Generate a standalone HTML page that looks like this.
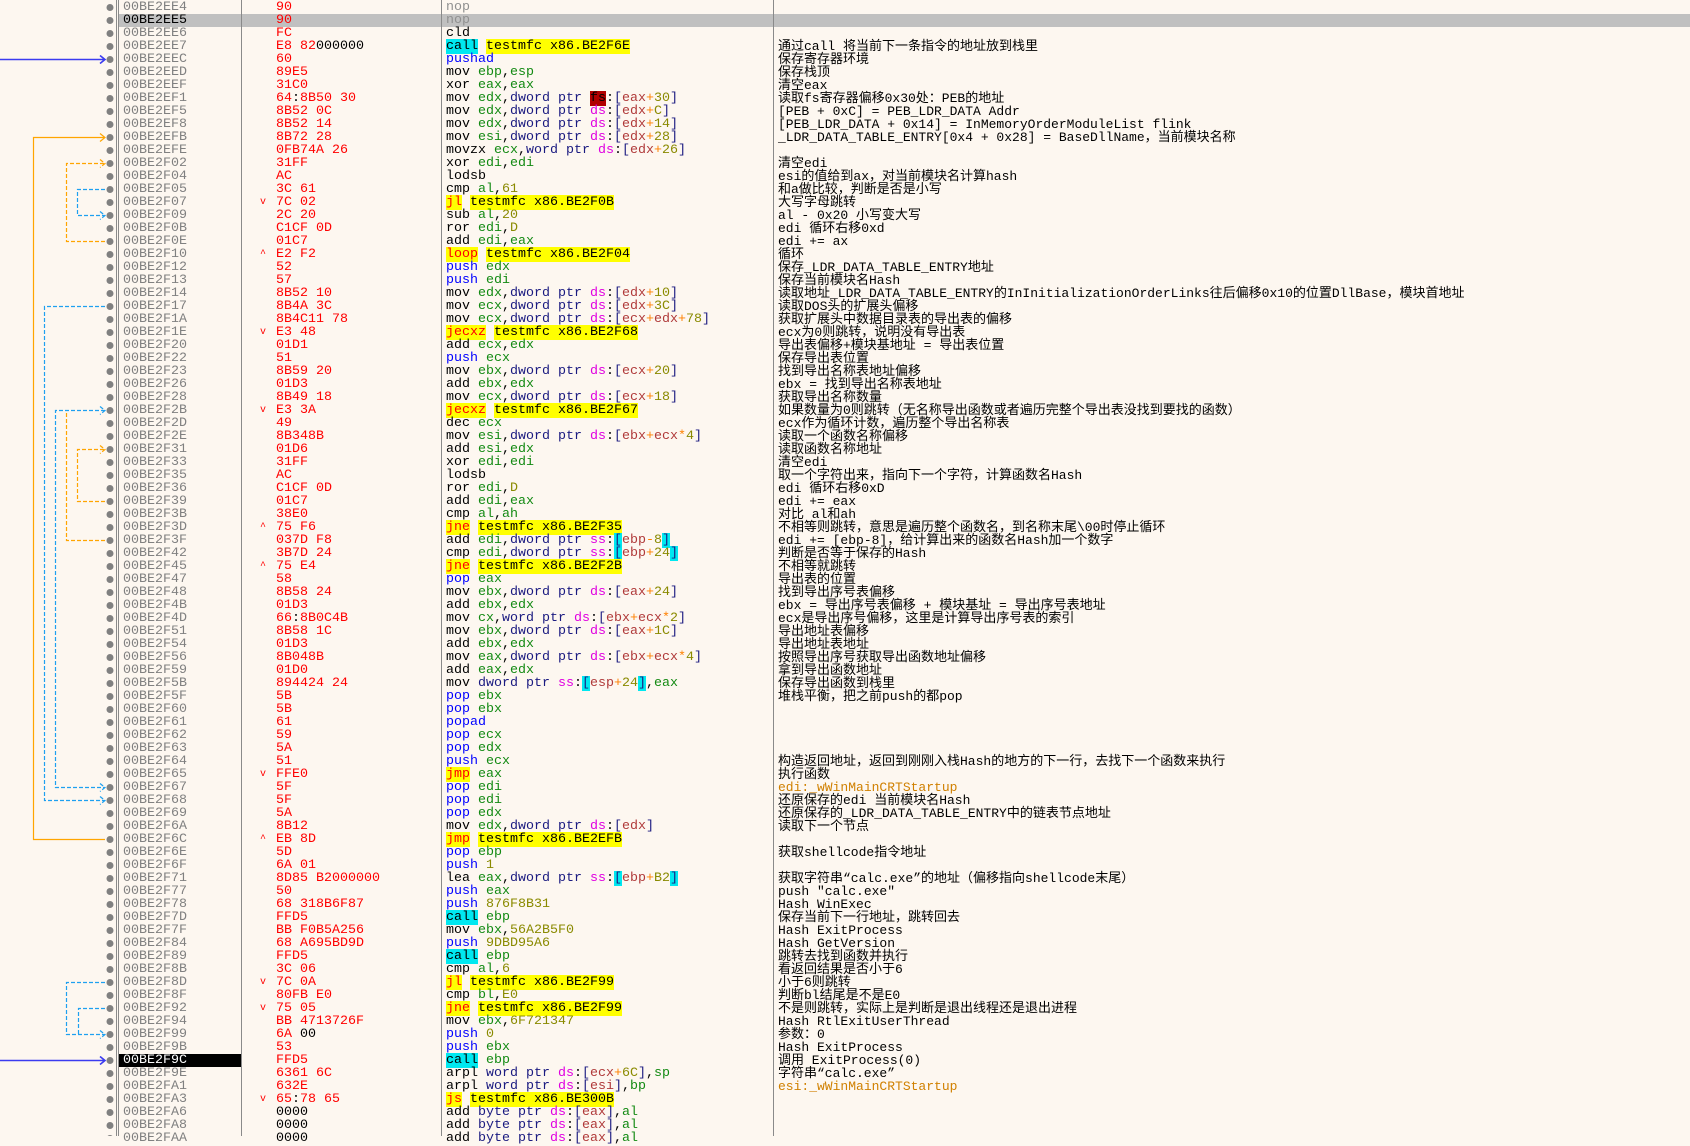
<!DOCTYPE html>
<html><head><meta charset="utf-8">
<style>
html,body{margin:0;padding:0}
body{width:1690px;height:1136px;background:#fdf7f0;position:relative;overflow:hidden;font-family:"Liberation Mono","Noto Sans CJK SC",monospace;font-size:13.33px}
.col{position:absolute;top:1px;white-space:normal}
.col div{height:13px;line-height:13px;white-space:pre}
.vl{position:absolute;top:0;height:1136px;width:1px;background:#8a8a8a}
#addr{left:123px;color:#808080}
#byt{left:276px;color:#ff0000}
#mk{left:260px;color:#ff0000;font-size:10px}
#dis{left:446px;color:#000}
#cm{left:778px;color:#000;font-size:13px}
i,b,s,q,em,u,var,mark{font-style:normal;font-weight:normal;text-decoration:none}
q::before,q::after{content:none}
i{color:#138a13}
b{color:#1a1a80}
s{color:#e000e0}
q{color:#b03a3a}
em{color:#ff8000}
u{color:#8a8a00}
var{color:#0000ff}
mark{background:#ffff00;color:#000}
mark.j{color:#ff0000}
mark.c{background:#00e8f0;color:#000}
.cy{background:#00e8f0}
.fs{background:#b00000;color:#000}
.k{color:#000}
.gr{color:#909090}
.or{color:#d08000}
</style></head><body>
<div style="position:absolute;left:119px;top:14px;width:1571px;height:13px;background:#c0c0c0"></div>
<div style="position:absolute;left:119px;top:1054px;width:122px;height:13px;background:#000"></div>
<div class="vl" style="left:116px"></div>
<div class="vl" style="left:118px"></div>
<div class="vl" style="left:241px"></div>
<div class="vl" style="left:441px"></div>
<div class="vl" style="left:773px"></div>

<svg style="position:absolute;left:0;top:0" width="116" height="1136">
<g fill="#808080">
<circle cx="110" cy="7.5" r="3.5"/><circle cx="110" cy="20.5" r="3.5"/><circle cx="110" cy="33.5" r="3.5"/><circle cx="110" cy="46.5" r="3.5"/><circle cx="110" cy="59.5" r="3.5"/><circle cx="110" cy="72.5" r="3.5"/><circle cx="110" cy="85.5" r="3.5"/><circle cx="110" cy="98.5" r="3.5"/><circle cx="110" cy="111.5" r="3.5"/><circle cx="110" cy="124.5" r="3.5"/><circle cx="110" cy="137.5" r="3.5"/><circle cx="110" cy="150.5" r="3.5"/><circle cx="110" cy="163.5" r="3.5"/><circle cx="110" cy="176.5" r="3.5"/><circle cx="110" cy="189.5" r="3.5"/><circle cx="110" cy="202.5" r="3.5"/><circle cx="110" cy="215.5" r="3.5"/><circle cx="110" cy="228.5" r="3.5"/><circle cx="110" cy="241.5" r="3.5"/><circle cx="110" cy="254.5" r="3.5"/><circle cx="110" cy="267.5" r="3.5"/><circle cx="110" cy="280.5" r="3.5"/><circle cx="110" cy="293.5" r="3.5"/><circle cx="110" cy="306.5" r="3.5"/><circle cx="110" cy="319.5" r="3.5"/><circle cx="110" cy="332.5" r="3.5"/><circle cx="110" cy="345.5" r="3.5"/><circle cx="110" cy="358.5" r="3.5"/><circle cx="110" cy="371.5" r="3.5"/><circle cx="110" cy="384.5" r="3.5"/><circle cx="110" cy="397.5" r="3.5"/><circle cx="110" cy="410.5" r="3.5"/><circle cx="110" cy="423.5" r="3.5"/><circle cx="110" cy="436.5" r="3.5"/><circle cx="110" cy="449.5" r="3.5"/><circle cx="110" cy="462.5" r="3.5"/><circle cx="110" cy="475.5" r="3.5"/><circle cx="110" cy="488.5" r="3.5"/><circle cx="110" cy="501.5" r="3.5"/><circle cx="110" cy="514.5" r="3.5"/><circle cx="110" cy="527.5" r="3.5"/><circle cx="110" cy="540.5" r="3.5"/><circle cx="110" cy="553.5" r="3.5"/><circle cx="110" cy="566.5" r="3.5"/><circle cx="110" cy="579.5" r="3.5"/><circle cx="110" cy="592.5" r="3.5"/><circle cx="110" cy="605.5" r="3.5"/><circle cx="110" cy="618.5" r="3.5"/><circle cx="110" cy="631.5" r="3.5"/><circle cx="110" cy="644.5" r="3.5"/><circle cx="110" cy="657.5" r="3.5"/><circle cx="110" cy="670.5" r="3.5"/><circle cx="110" cy="683.5" r="3.5"/><circle cx="110" cy="696.5" r="3.5"/><circle cx="110" cy="709.5" r="3.5"/><circle cx="110" cy="722.5" r="3.5"/><circle cx="110" cy="735.5" r="3.5"/><circle cx="110" cy="748.5" r="3.5"/><circle cx="110" cy="761.5" r="3.5"/><circle cx="110" cy="774.5" r="3.5"/><circle cx="110" cy="787.5" r="3.5"/><circle cx="110" cy="800.5" r="3.5"/><circle cx="110" cy="813.5" r="3.5"/><circle cx="110" cy="826.5" r="3.5"/><circle cx="110" cy="839.5" r="3.5"/><circle cx="110" cy="852.5" r="3.5"/><circle cx="110" cy="865.5" r="3.5"/><circle cx="110" cy="878.5" r="3.5"/><circle cx="110" cy="891.5" r="3.5"/><circle cx="110" cy="904.5" r="3.5"/><circle cx="110" cy="917.5" r="3.5"/><circle cx="110" cy="930.5" r="3.5"/><circle cx="110" cy="943.5" r="3.5"/><circle cx="110" cy="956.5" r="3.5"/><circle cx="110" cy="969.5" r="3.5"/><circle cx="110" cy="982.5" r="3.5"/><circle cx="110" cy="995.5" r="3.5"/><circle cx="110" cy="1008.5" r="3.5"/><circle cx="110" cy="1021.5" r="3.5"/><circle cx="110" cy="1034.5" r="3.5"/><circle cx="110" cy="1047.5" r="3.5"/><circle cx="110" cy="1060.5" r="3.5"/><circle cx="110" cy="1073.5" r="3.5"/><circle cx="110" cy="1086.5" r="3.5"/><circle cx="110" cy="1099.5" r="3.5"/><circle cx="110" cy="1112.5" r="3.5"/><circle cx="110" cy="1125.5" r="3.5"/><circle cx="110" cy="1138.5" r="3.5"/>
</g>
<g fill="none" stroke-width="1.2">
<path d="M0 59.5H105M100 55.5L105 59.5L100 63.5" stroke="#3b3bf0" stroke-width="1.6"/>
<path d="M0 1060.5H105M100 1056.5L105 1060.5L100 1064.5" stroke="#3b3bf0" stroke-width="1.6"/>
<path d="M105 839.5H33.5V137.5H105M100 133.5L105 137.5L100 141.5" stroke="#ffa500"/>
<path d="M105 241.5H66.5V163.5H105M100 159.5L105 163.5L100 167.5" stroke="#ffa500" stroke-dasharray="4 2"/>
<path d="M105 189.5H77.5V215.5H105M100 211.5L105 215.5L100 219.5" stroke="#1ea0f0" stroke-dasharray="4 2"/>
<path d="M105 306.5H44.5V800.5H105M100 796.5L105 800.5L100 804.5" stroke="#1ea0f0" stroke-dasharray="4 2"/>
<path d="M105 540.5H66.5V412" stroke="#ffa500" stroke-dasharray="4 2"/>
<path d="M105 410.5H55.5V787.5H105M100 783.5L105 787.5L100 791.5M100 406.5L105 410.5L100 414.5" stroke="#1ea0f0" stroke-dasharray="4 2"/>
<path d="M105 501.5H77.5V449.5H105M100 445.5L105 449.5L100 453.5" stroke="#ffa500" stroke-dasharray="4 2"/>
<path d="M105 982.5H66.5V1034.5H105M100 1030.5L105 1034.5L100 1038.5" stroke="#1ea0f0" stroke-dasharray="4 2"/>
<path d="M105 1008.5H78.5V1034.5" stroke="#1ea0f0" stroke-dasharray="4 2"/>
</g>
</svg>

<div class="col" id="addr"><div>00BE2EE4</div><div style="color:#000">00BE2EE5</div><div>00BE2EE6</div><div>00BE2EE7</div><div>00BE2EEC</div><div>00BE2EED</div><div>00BE2EEF</div><div>00BE2EF1</div><div>00BE2EF5</div><div>00BE2EF8</div><div>00BE2EFB</div><div>00BE2EFE</div><div>00BE2F02</div><div>00BE2F04</div><div>00BE2F05</div><div>00BE2F07</div><div>00BE2F09</div><div>00BE2F0B</div><div>00BE2F0E</div><div>00BE2F10</div><div>00BE2F12</div><div>00BE2F13</div><div>00BE2F14</div><div>00BE2F17</div><div>00BE2F1A</div><div>00BE2F1E</div><div>00BE2F20</div><div>00BE2F22</div><div>00BE2F23</div><div>00BE2F26</div><div>00BE2F28</div><div>00BE2F2B</div><div>00BE2F2D</div><div>00BE2F2E</div><div>00BE2F31</div><div>00BE2F33</div><div>00BE2F35</div><div>00BE2F36</div><div>00BE2F39</div><div>00BE2F3B</div><div>00BE2F3D</div><div>00BE2F3F</div><div>00BE2F42</div><div>00BE2F45</div><div>00BE2F47</div><div>00BE2F48</div><div>00BE2F4B</div><div>00BE2F4D</div><div>00BE2F51</div><div>00BE2F54</div><div>00BE2F56</div><div>00BE2F59</div><div>00BE2F5B</div><div>00BE2F5F</div><div>00BE2F60</div><div>00BE2F61</div><div>00BE2F62</div><div>00BE2F63</div><div>00BE2F64</div><div>00BE2F65</div><div>00BE2F67</div><div>00BE2F68</div><div>00BE2F69</div><div>00BE2F6A</div><div>00BE2F6C</div><div>00BE2F6E</div><div>00BE2F6F</div><div>00BE2F71</div><div>00BE2F77</div><div>00BE2F78</div><div>00BE2F7D</div><div>00BE2F7F</div><div>00BE2F84</div><div>00BE2F89</div><div>00BE2F8B</div><div>00BE2F8D</div><div>00BE2F8F</div><div>00BE2F92</div><div>00BE2F94</div><div>00BE2F99</div><div>00BE2F9B</div><div style="color:#fff">00BE2F9C</div><div>00BE2F9E</div><div>00BE2FA1</div><div>00BE2FA3</div><div>00BE2FA6</div><div>00BE2FA8</div><div>00BE2FAA</div></div>

<div class="col" id="mk"><div> </div><div> </div><div> </div><div> </div><div> </div><div> </div><div> </div><div> </div><div> </div><div> </div><div> </div><div> </div><div> </div><div> </div><div> </div><div>v</div><div> </div><div> </div><div> </div><div>^</div><div> </div><div> </div><div> </div><div> </div><div> </div><div>v</div><div> </div><div> </div><div> </div><div> </div><div> </div><div>v</div><div> </div><div> </div><div> </div><div> </div><div> </div><div> </div><div> </div><div> </div><div>^</div><div> </div><div> </div><div>^</div><div> </div><div> </div><div> </div><div> </div><div> </div><div> </div><div> </div><div> </div><div> </div><div> </div><div> </div><div> </div><div> </div><div> </div><div> </div><div>v</div><div> </div><div> </div><div> </div><div> </div><div>^</div><div> </div><div> </div><div> </div><div> </div><div> </div><div> </div><div> </div><div> </div><div> </div><div> </div><div>v</div><div> </div><div>v</div><div> </div><div> </div><div> </div><div> </div><div> </div><div> </div><div>v</div></div>

<div class="col" id="byt"><div>90</div><div>90</div><div>FC</div><div>E8 82<span class="k">000000</span></div><div>60</div><div>89E5</div><div>31C0</div><div>64<span class="k">:</span>8B50 30</div><div>8B52 0C</div><div>8B52 14</div><div>8B72 28</div><div>0FB74A 26</div><div>31FF</div><div>AC</div><div>3C 61</div><div>7C 02</div><div>2C 20</div><div>C1CF 0D</div><div>01C7</div><div>E2 F2</div><div>52</div><div>57</div><div>8B52 10</div><div>8B4A 3C</div><div>8B4C11 78</div><div>E3 48</div><div>01D1</div><div>51</div><div>8B59 20</div><div>01D3</div><div>8B49 18</div><div>E3 3A</div><div>49</div><div>8B348B</div><div>01D6</div><div>31FF</div><div>AC</div><div>C1CF 0D</div><div>01C7</div><div>38E0</div><div>75 F6</div><div>037D F8</div><div>3B7D 24</div><div>75 E4</div><div>58</div><div>8B58 24</div><div>01D3</div><div>66<span class="k">:</span>8B0C4B</div><div>8B58 1C</div><div>01D3</div><div>8B048B</div><div>01D0</div><div>894424 24</div><div>5B</div><div>5B</div><div>61</div><div>59</div><div>5A</div><div>51</div><div>FFE0</div><div>5F</div><div>5F</div><div>5A</div><div>8B12</div><div>EB 8D</div><div>5D</div><div>6A 01</div><div>8D85 B2000000</div><div>50</div><div>68 318B6F87</div><div>FFD5</div><div>BB F0B5A256</div><div>68 A695BD9D</div><div>FFD5</div><div>3C 06</div><div>7C 0A</div><div>80FB E0</div><div>75 05</div><div>BB 4713726F</div><div>6A <span class="k">00</span></div><div>53</div><div>FFD5</div><div>6361 6C</div><div>632E</div><div>65<span class="k">:</span>78 65</div><div class="k">0000</div><div class="k">0000</div><div class="k">0000</div></div>

<div class="col" id="dis">
<div class="gr">nop</div>
<div class="gr">nop</div>
<div>cld</div>
<div><mark class="c">call</mark> <mark>testmfc x86.BE2F6E</mark></div>
<div><var>pushad</var></div>
<div>mov <i>ebp</i>,<i>esp</i></div>
<div>xor <i>eax</i>,<i>eax</i></div>
<div>mov <i>edx</i>,<b>dword ptr</b> <span class="fs">fs</span>:<b>[</b><q>eax</q><em>+</em><u>30</u><b>]</b></div>
<div>mov <i>edx</i>,<b>dword ptr</b> <s>ds</s>:<b>[</b><q>edx</q><em>+</em><u>C</u><b>]</b></div>
<div>mov <i>edx</i>,<b>dword ptr</b> <s>ds</s>:<b>[</b><q>edx</q><em>+</em><u>14</u><b>]</b></div>
<div>mov <i>esi</i>,<b>dword ptr</b> <s>ds</s>:<b>[</b><q>edx</q><em>+</em><u>28</u><b>]</b></div>
<div>movzx <i>ecx</i>,<b>word ptr</b> <s>ds</s>:<b>[</b><q>edx</q><em>+</em><u>26</u><b>]</b></div>
<div>xor <i>edi</i>,<i>edi</i></div>
<div>lodsb</div>
<div>cmp <i>al</i>,<u>61</u></div>
<div><mark class="j">jl</mark> <mark>testmfc x86.BE2F0B</mark></div>
<div>sub <i>al</i>,<u>20</u></div>
<div>ror <i>edi</i>,<u>D</u></div>
<div>add <i>edi</i>,<i>eax</i></div>
<div><mark class="j">loop</mark> <mark>testmfc x86.BE2F04</mark></div>
<div><var>push</var> <i>edx</i></div>
<div><var>push</var> <i>edi</i></div>
<div>mov <i>edx</i>,<b>dword ptr</b> <s>ds</s>:<b>[</b><q>edx</q><em>+</em><u>10</u><b>]</b></div>
<div>mov <i>ecx</i>,<b>dword ptr</b> <s>ds</s>:<b>[</b><q>edx</q><em>+</em><u>3C</u><b>]</b></div>
<div>mov <i>ecx</i>,<b>dword ptr</b> <s>ds</s>:<b>[</b><q>ecx</q><em>+</em><q>edx</q><em>+</em><u>78</u><b>]</b></div>
<div><mark class="j">jecxz</mark> <mark>testmfc x86.BE2F68</mark></div>
<div>add <i>ecx</i>,<i>edx</i></div>
<div><var>push</var> <i>ecx</i></div>
<div>mov <i>ebx</i>,<b>dword ptr</b> <s>ds</s>:<b>[</b><q>ecx</q><em>+</em><u>20</u><b>]</b></div>
<div>add <i>ebx</i>,<i>edx</i></div>
<div>mov <i>ecx</i>,<b>dword ptr</b> <s>ds</s>:<b>[</b><q>ecx</q><em>+</em><u>18</u><b>]</b></div>
<div><mark class="j">jecxz</mark> <mark>testmfc x86.BE2F67</mark></div>
<div>dec <i>ecx</i></div>
<div>mov <i>esi</i>,<b>dword ptr</b> <s>ds</s>:<b>[</b><q>ebx</q><em>+</em><q>ecx</q><em>*</em><u>4</u><b>]</b></div>
<div>add <i>esi</i>,<i>edx</i></div>
<div>xor <i>edi</i>,<i>edi</i></div>
<div>lodsb</div>
<div>ror <i>edi</i>,<u>D</u></div>
<div>add <i>edi</i>,<i>eax</i></div>
<div>cmp <i>al</i>,<i>ah</i></div>
<div><mark class="j">jne</mark> <mark>testmfc x86.BE2F35</mark></div>
<div>add <i>edi</i>,<b>dword ptr</b> <s>ss</s>:<b class="cy">[</b><q>ebp</q><em>-</em><u>8</u><b class="cy">]</b></div>
<div>cmp <i>edi</i>,<b>dword ptr</b> <s>ss</s>:<b class="cy">[</b><q>ebp</q><em>+</em><u>24</u><b class="cy">]</b></div>
<div><mark class="j">jne</mark> <mark>testmfc x86.BE2F2B</mark></div>
<div><var>pop</var> <i>eax</i></div>
<div>mov <i>ebx</i>,<b>dword ptr</b> <s>ds</s>:<b>[</b><q>eax</q><em>+</em><u>24</u><b>]</b></div>
<div>add <i>ebx</i>,<i>edx</i></div>
<div>mov <i>cx</i>,<b>word ptr</b> <s>ds</s>:<b>[</b><q>ebx</q><em>+</em><q>ecx</q><em>*</em><u>2</u><b>]</b></div>
<div>mov <i>ebx</i>,<b>dword ptr</b> <s>ds</s>:<b>[</b><q>eax</q><em>+</em><u>1C</u><b>]</b></div>
<div>add <i>ebx</i>,<i>edx</i></div>
<div>mov <i>eax</i>,<b>dword ptr</b> <s>ds</s>:<b>[</b><q>ebx</q><em>+</em><q>ecx</q><em>*</em><u>4</u><b>]</b></div>
<div>add <i>eax</i>,<i>edx</i></div>
<div>mov <b>dword ptr</b> <s>ss</s>:<b class="cy">[</b><q>esp</q><em>+</em><u>24</u><b class="cy">]</b>,<i>eax</i></div>
<div><var>pop</var> <i>ebx</i></div>
<div><var>pop</var> <i>ebx</i></div>
<div><var>popad</var></div>
<div><var>pop</var> <i>ecx</i></div>
<div><var>pop</var> <i>edx</i></div>
<div><var>push</var> <i>ecx</i></div>
<div><mark class="j">jmp</mark> <i>eax</i></div>
<div><var>pop</var> <i>edi</i></div>
<div><var>pop</var> <i>edi</i></div>
<div><var>pop</var> <i>edx</i></div>
<div>mov <i>edx</i>,<b>dword ptr</b> <s>ds</s>:<b>[</b><q>edx</q><b>]</b></div>
<div><mark class="j">jmp</mark> <mark>testmfc x86.BE2EFB</mark></div>
<div><var>pop</var> <i>ebp</i></div>
<div><var>push</var> <u>1</u></div>
<div>lea <i>eax</i>,<b>dword ptr</b> <s>ss</s>:<b class="cy">[</b><q>ebp</q><em>+</em><u>B2</u><b class="cy">]</b></div>
<div><var>push</var> <i>eax</i></div>
<div><var>push</var> <u>876F8B31</u></div>
<div><mark class="c">call</mark> <i>ebp</i></div>
<div>mov <i>ebx</i>,<u>56A2B5F0</u></div>
<div><var>push</var> <u>9DBD95A6</u></div>
<div><mark class="c">call</mark> <i>ebp</i></div>
<div>cmp <i>al</i>,<u>6</u></div>
<div><mark class="j">jl</mark> <mark>testmfc x86.BE2F99</mark></div>
<div>cmp <i>bl</i>,<u>E0</u></div>
<div><mark class="j">jne</mark> <mark>testmfc x86.BE2F99</mark></div>
<div>mov <i>ebx</i>,<u>6F721347</u></div>
<div><var>push</var> <u>0</u></div>
<div><var>push</var> <i>ebx</i></div>
<div><mark class="c">call</mark> <i>ebp</i></div>
<div>arpl <b>word ptr</b> <s>ds</s>:<b>[</b><q>ecx</q><em>+</em><u>6C</u><b>]</b>,<i>sp</i></div>
<div>arpl <b>word ptr</b> <s>ds</s>:<b>[</b><q>esi</q><b>]</b>,<i>bp</i></div>
<div><mark class="j">js</mark> <mark>testmfc x86.BE300B</mark></div>
<div>add <b>byte ptr</b> <s>ds</s>:<b>[</b><q>eax</q><b>]</b>,<i>al</i></div>
<div>add <b>byte ptr</b> <s>ds</s>:<b>[</b><q>eax</q><b>]</b>,<i>al</i></div>
<div>add <b>byte ptr</b> <s>ds</s>:<b>[</b><q>eax</q><b>]</b>,<i>al</i></div>
</div>

<div class="col" id="cm">
<div> </div><div> </div><div> </div>
<div>通过call 将当前下一条指令的地址放到栈里</div>
<div>保存寄存器环境</div>
<div>保存栈顶</div>
<div>清空eax</div>
<div>读取fs寄存器偏移0x30处：PEB的地址</div>
<div>[PEB + 0xC] = PEB_LDR_DATA Addr</div>
<div>[PEB_LDR_DATA + 0x14] = InMemoryOrderModuleList flink</div>
<div>_LDR_DATA_TABLE_ENTRY[0x4 + 0x28] = BaseDllName，当前模块名称</div>
<div> </div>
<div>清空edi</div>
<div>esi的值给到ax，对当前模块名计算hash</div>
<div>和a做比较，判断是否是小写</div>
<div>大写字母跳转</div>
<div>al - 0x20 小写变大写</div>
<div>edi 循环右移0xd</div>
<div>edi += ax</div>
<div>循环</div>
<div>保存_LDR_DATA_TABLE_ENTRY地址</div>
<div>保存当前模块名Hash</div>
<div>读取地址_LDR_DATA_TABLE_ENTRY的InInitializationOrderLinks往后偏移0x10的位置DllBase，模块首地址</div>
<div>读取DOS头的扩展头偏移</div>
<div>获取扩展头中数据目录表的导出表的偏移</div>
<div>ecx为0则跳转，说明没有导出表</div>
<div>导出表偏移+模块基地址 = 导出表位置</div>
<div>保存导出表位置</div>
<div>找到导出名称表地址偏移</div>
<div>ebx = 找到导出名称表地址</div>
<div>获取导出名称数量</div>
<div>如果数量为0则跳转（无名称导出函数或者遍历完整个导出表没找到要找的函数）</div>
<div>ecx作为循环计数，遍历整个导出名称表</div>
<div>读取一个函数名称偏移</div>
<div>读取函数名称地址</div>
<div>清空edi</div>
<div>取一个字符出来，指向下一个字符，计算函数名Hash</div>
<div>edi 循环右移0xD</div>
<div>edi += eax</div>
<div>对比 al和ah</div>
<div>不相等则跳转，意思是遍历整个函数名，到名称末尾\00时停止循环</div>
<div>edi += [ebp-8]，给计算出来的函数名Hash加一个数字</div>
<div>判断是否等于保存的Hash</div>
<div>不相等就跳转</div>
<div>导出表的位置</div>
<div>找到导出序号表偏移</div>
<div>ebx = 导出序号表偏移 + 模块基址 = 导出序号表地址</div>
<div>ecx是导出序号偏移，这里是计算导出序号表的索引</div>
<div>导出地址表偏移</div>
<div>导出地址表地址</div>
<div>按照导出序号获取导出函数地址偏移</div>
<div>拿到导出函数地址</div>
<div>保存导出函数到栈里</div>
<div>堆栈平衡，把之前push的都pop</div>
<div> </div><div> </div><div> </div><div> </div>
<div>构造返回地址，返回到刚刚入栈Hash的地方的下一行，去找下一个函数来执行</div>
<div>执行函数</div>
<div class="or">edi:_wWinMainCRTStartup</div>
<div>还原保存的edi 当前模块名Hash</div>
<div>还原保存的_LDR_DATA_TABLE_ENTRY中的链表节点地址</div>
<div>读取下一个节点</div>
<div> </div>
<div>获取shellcode指令地址</div>
<div> </div>
<div>获取字符串“calc.exe”的地址（偏移指向shellcode末尾）</div>
<div>push "calc.exe"</div>
<div>Hash WinExec</div>
<div>保存当前下一行地址，跳转回去</div>
<div>Hash ExitProcess</div>
<div>Hash GetVersion</div>
<div>跳转去找到函数并执行</div>
<div>看返回结果是否小于6</div>
<div>小于6则跳转</div>
<div>判断bl结尾是不是E0</div>
<div>不是则跳转，实际上是判断是退出线程还是退出进程</div>
<div>Hash RtlExitUserThread</div>
<div>参数：0</div>
<div>Hash ExitProcess</div>
<div>调用 ExitProcess(0)</div>
<div>字符串“calc.exe”</div>
<div class="or">esi:_wWinMainCRTStartup</div>
</div>
</body></html>
